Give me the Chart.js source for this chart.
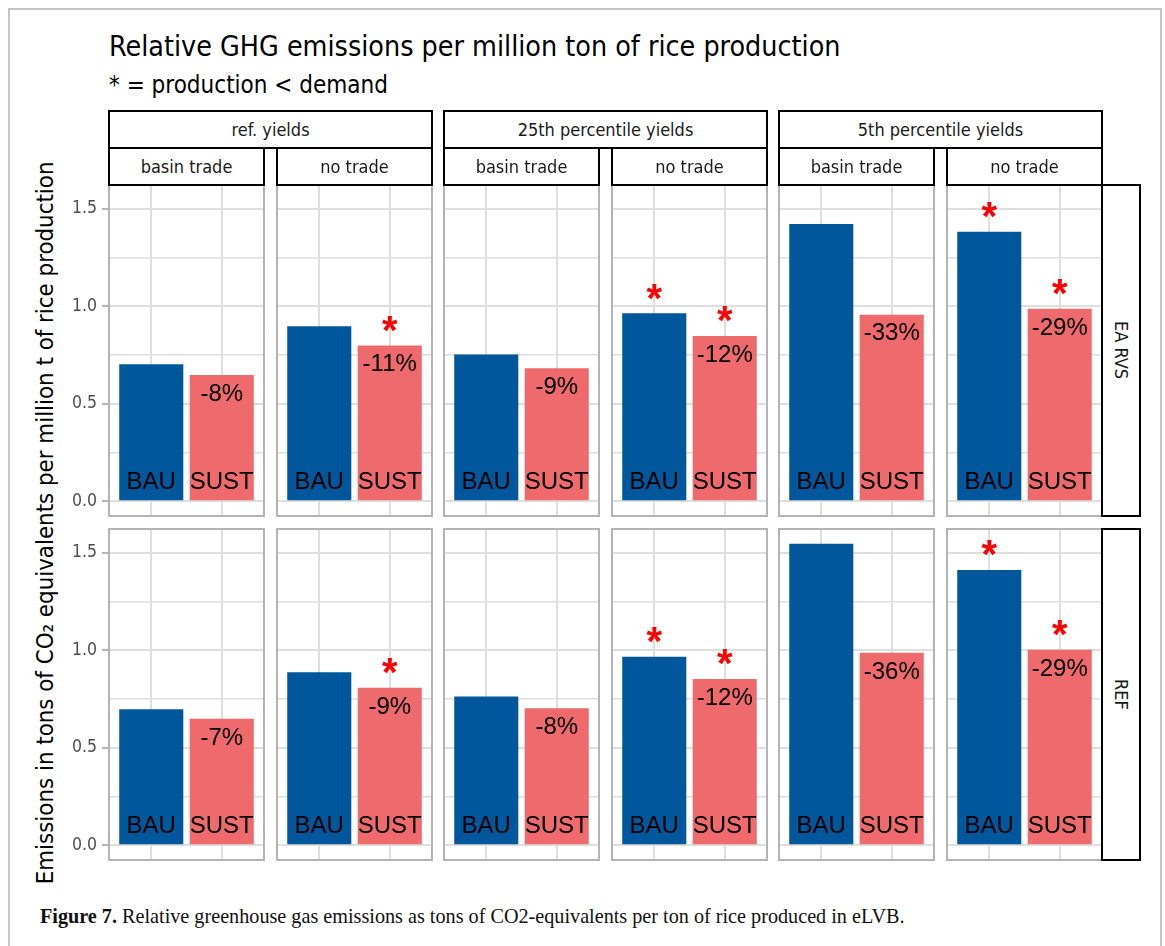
<!DOCTYPE html>
<html>
<head>
<meta charset="utf-8">
<title>Relative GHG emissions per million ton of rice production</title>
<script src="https://cdn.jsdelivr.net/npm/chart.js@4/dist/chart.umd.min.js"></script>
<style>
  html, body { margin: 0; padding: 0; background: #fff; }
  #fig {
    position: relative; width: 1165px; height: 946px; overflow: hidden; background: #fff;
    font-family: "DejaVu Sans Condensed", "DejaVu Sans", sans-serif; font-stretch: condensed; color: #000;
  }
  .frame { position: absolute; left: 8px; top: 8px; width: 1154px; height: 1000px;
           border: 2px solid #C4C4C4; box-sizing: border-box; }
  .title { position: absolute; left: 109px; top: 33px; font-size: 28.4px; line-height: 1; white-space: nowrap; }
  .subtitle { position: absolute; left: 109px; top: 73px; font-size: 24px; line-height: 1; white-space: nowrap; }
  .strip { position: absolute; box-sizing: border-box; border: 2px solid #000; background: #fff;
           display: flex; align-items: center; justify-content: center; font-size: 18px; line-height: 1;
           white-space: nowrap; color: #1A1A1A; }
  .strip.side { writing-mode: vertical-rl; }
  .ytitle { position: absolute; width: 900px; text-align: center; font-size: 23.8px; line-height: 1;
            white-space: nowrap; transform: rotate(-90deg); transform-origin: 50% 50%; }
  .caption { position: absolute; left: 40px; top: 906px; font-family: "Liberation Serif", "Times New Roman", serif;
             font-stretch: normal; font-size: 20.2px; line-height: 1; white-space: nowrap; color: #111; }
  canvas { position: absolute; }
</style>
</head>
<body>
<div id="fig">
  <div class="frame"></div>
  <div class="title">Relative GHG emissions per million ton of rice production</div>
  <div class="subtitle">* = production &lt; demand</div>
  <div class="ytitle" id="ytitle">Emissions in tons of CO₂ equivalents per million t of rice production</div>
  <div class="caption"><b>Figure 7.</b> Relative greenhouse gas emissions as tons of CO2-equivalents per ton of rice produced in eLVB.</div>
</div>
<script>
// ---- facet labels -------------------------------------------------------
const ROWS = ['EA RVS', 'REF'];
const YIELD_LEVELS = ['ref. yields', '25th percentile yields', '5th percentile yields'];
const TRADE_MODES = ['basin trade', 'no trade'];
const SCENARIOS = ['BAU', 'SUST'];

// ---- emissions (t CO2-eq per t rice), one value per column:
// ref/basin, ref/no, 25th/basin, 25th/no, 5th/basin, 5th/no
const BAU_EA_RVS  = [0.700, 0.895, 0.750, 0.962, 1.420, 1.380];
const SUST_EA_RVS = [0.645, 0.797, 0.680, 0.845, 0.955, 0.985];
const BAU_REF     = [0.695, 0.885, 0.760, 0.965, 1.545, 1.410];
const SUST_REF    = [0.646, 0.805, 0.700, 0.850, 0.985, 1.000];

// ---- production falls short of demand (marked with a red asterisk)
const SHORT_BAU_EA_RVS  = [false, false, false, true, false, true];
const SHORT_SUST_EA_RVS = [false, true,  false, true, false, true];
const SHORT_BAU_REF     = [false, false, false, true, false, true];
const SHORT_SUST_REF    = [false, true,  false, true, false, true];

// ---- y axis
const Y_GRID = [0, 0.25, 0.5, 0.75, 1.0, 1.25, 1.5];
const Y_LABELLED = [0, 0.5, 1.0, 1.5];

const BAU_VALUES = [BAU_EA_RVS, BAU_REF];
const SUST_VALUES = [SUST_EA_RVS, SUST_REF];
const BAU_SHORT = [SHORT_BAU_EA_RVS, SHORT_BAU_REF];
const SUST_SHORT = [SHORT_SUST_EA_RVS, SHORT_SUST_REF];

// shared y range with 5 % expansion on both sides
const allValues = BAU_VALUES.flat().concat(SUST_VALUES.flat());
const yTop = Math.max(...allValues);
const Y_MIN = -0.05 * yTop;
const Y_MAX = yTop * 1.05;

// ---- layout
const PANEL_X = [109, 277, 444, 612, 779, 947];
const PANEL_W = 155;
const PANEL_Y = [185, 529];
const PANEL_H = 331;
const STRIP1_Y = 110, STRIP2_Y = 147, STRIP_H = 39;
const SIDE_X = 1101, SIDE_W = 40;

const BLUE = '#01579B';
const RED = '#EE6A6C';
const GRID = '#DEDEDE';
const BORDER = '#B3B3B3';
const TICK_FONT = { family: '"DejaVu Sans Condensed", "DejaVu Sans", sans-serif', size: 17.5 };
const LABEL_FONT = '"Liberation Sans", Arial, sans-serif';

const fig = document.getElementById('fig');

function addStrip(text, x, y, w, h, side) {
  const d = document.createElement('div');
  d.className = 'strip' + (side ? ' side' : '');
  d.style.left = x + 'px'; d.style.top = y + 'px';
  d.style.width = w + 'px'; d.style.height = h + 'px';
  d.textContent = text;
  fig.appendChild(d);
}

// y axis title, centred on the panel block
(function () {
  const t = document.getElementById('ytitle');
  const cy = (PANEL_Y[0] + PANEL_Y[1] + PANEL_H) / 2;
  t.style.left = (46 - 450) + 'px';
  t.style.top = (cy - 12) + 'px';
})();

// in-bar scenario labels, change percentages, shortage asterisks and the panel frame
const panelDecor = {
  id: 'panelDecor',
  afterDatasetsDraw(chart) {
    const ctx = chart.ctx;
    const ds = chart.data.datasets[0];
    chart.getDatasetMeta(0).data.forEach((bar, i) => {
      ctx.save();
      ctx.textAlign = 'center';
      ctx.textBaseline = 'alphabetic';
      ctx.fillStyle = '#000';
      ctx.font = '24px ' + LABEL_FONT;
      ctx.fillText(SCENARIOS[i], bar.x, bar.base - 11);
      if (ds.change[i]) ctx.fillText(ds.change[i], bar.x, bar.y + 25.5);
      if (ds.shortage[i]) {
        ctx.fillStyle = '#FF0000';
        ctx.font = 'bold 40px ' + LABEL_FONT;
        const m = ctx.measureText('*');
        const cy = bar.y - 22;
        ctx.fillText('*', bar.x, cy + (m.actualBoundingBoxAscent - m.actualBoundingBoxDescent) / 2);
      }
      ctx.restore();
    });
  },
  afterDraw(chart) {
    const a = chart.chartArea, ctx = chart.ctx;
    ctx.save();
    ctx.strokeStyle = BORDER;
    ctx.lineWidth = 2;
    ctx.strokeRect(a.left, a.top, a.right - a.left, a.bottom - a.top);
    ctx.restore();
  }
};

function makePanel(r, c) {
  const first = c === 0;
  const pad = 3;
  const left = first ? 40 : PANEL_X[c] - pad;
  const top = PANEL_Y[r] - pad;
  const w = PANEL_X[c] + PANEL_W + pad - left;
  const h = PANEL_H + 2 * pad;
  const canvas = document.createElement('canvas');
  canvas.width = w; canvas.height = h;
  canvas.style.left = left + 'px'; canvas.style.top = top + 'px';
  canvas.style.width = w + 'px'; canvas.style.height = h + 'px';
  fig.appendChild(canvas);

  const bau = BAU_VALUES[r][c], sust = SUST_VALUES[r][c];
  const change = Math.round((sust / bau - 1) * 100) + '%';

  new Chart(canvas, {
    type: 'bar',
    data: {
      datasets: [{
        label: ROWS[r] + ' / ' + YIELD_LEVELS[c >> 1] + ' / ' + TRADE_MODES[c % 2],
        data: [{ x: 1, y: bau }, { x: 2, y: sust }],
        backgroundColor: [BLUE, RED],
        borderWidth: 0,
        barThickness: 'flex',
        barPercentage: 0.9,
        categoryPercentage: 1,
        shortage: [BAU_SHORT[r][c], SUST_SHORT[r][c]],
        change: [null, change]
      }]
    },
    options: {
      responsive: false,
      animation: false,
      events: [],
      layout: { padding: { left: first ? 0 : pad, right: pad, top: pad, bottom: pad } },
      scales: {
        x: {
          type: 'linear', min: 0.4, max: 2.6, offset: false,
          afterBuildTicks: s => { s.ticks = [{ value: 1 }, { value: 2 }]; },
          ticks: { display: false },
          grid: { color: GRID, lineWidth: 2, drawTicks: false, offset: false },
          border: { display: false },
          afterFit: s => { s.height = 0; s.paddingLeft = 0; s.paddingRight = 0; }
        },
        y: {
          type: 'linear', min: Y_MIN, max: Y_MAX,
          afterBuildTicks: s => { s.ticks = Y_GRID.map(v => ({ value: v })); },
          ticks: {
            display: first, padding: 5, color: '#4D4D4D', font: TICK_FONT,
            callback: v => (Y_LABELLED.includes(v) ? v.toFixed(1) : '')
          },
          grid: {
            color: GRID,
            lineWidth: ctx => (Y_LABELLED.includes(ctx.tick.value) ? 2 : 1.5),
            drawTicks: first, tickLength: 7, tickWidth: 2,
            tickColor: ctx => (Y_LABELLED.includes(ctx.tick.value) ? BORDER : 'rgba(0,0,0,0)')
          },
          border: { display: false },
          afterFit: s => {
            s.width = first ? PANEL_X[0] - left : 0;
            s.paddingTop = 0; s.paddingBottom = 0;
          }
        }
      },
      plugins: { legend: { display: false }, tooltip: { enabled: false } }
    },
    plugins: [panelDecor]
  });
}

for (let r = 0; r < ROWS.length; r++) {
  for (let c = 0; c < 6; c++) makePanel(r, c);
}

// facet strips: yield level on top, trade mode below it, scenario row on the right
YIELD_LEVELS.forEach((label, i) => {
  const x0 = PANEL_X[2 * i] - 1, x1 = PANEL_X[2 * i + 1] + PANEL_W + 1;
  addStrip(label, x0, STRIP1_Y, x1 - x0, STRIP_H, false);
});
for (let c = 0; c < 6; c++) {
  addStrip(TRADE_MODES[c % 2], PANEL_X[c] - 1, STRIP2_Y, PANEL_W + 2, STRIP_H, false);
}
ROWS.forEach((label, r) => {
  addStrip(label, SIDE_X, PANEL_Y[r] - 1, SIDE_W, PANEL_H + 2, true);
});
</script>
</body>
</html>
